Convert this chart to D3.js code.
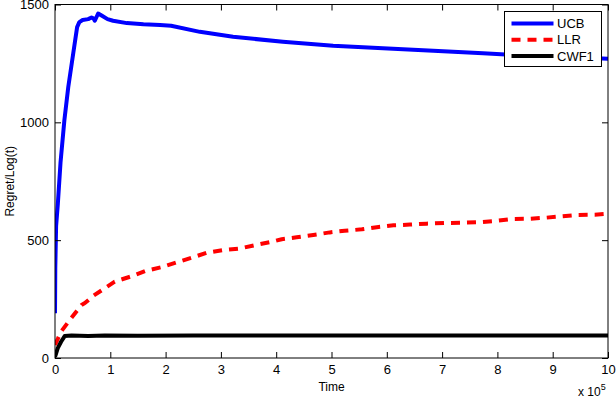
<!DOCTYPE html>
<html>
<head>
<meta charset="utf-8">
<script src="https://cdn.jsdelivr.net/npm/d3@7"></script>
<style>
  body { margin: 0; background: #fff; }
  svg text { font-family: "Liberation Sans", Arial, Helvetica, sans-serif; fill: #000; }
</style>
</head>
<body>
<div id="chart"></div>
<script>
// values (time in units of 1e5)
var xTicks = [0, 1, 2, 3, 4, 5, 6, 7, 8, 9, 10];
var yTicks = [0, 500, 1000, 1500];
var seriesNames = ["UCB", "LLR", "CWF1"];

var ucbT = [0, 0.005, 0.02, 0.05, 0.1, 0.17, 0.24, 0.33, 0.4, 0.44, 0.5, 0.6, 0.66, 0.7, 0.72, 0.78, 0.85, 0.95, 1.05, 1.3, 1.6, 1.9, 2.1, 2.62, 3.22, 4.12, 5.03, 5.93, 6.84, 7.74, 8.5, 9.2, 10];
var ucbV = [190, 380, 560, 650, 830, 1010, 1150, 1293, 1404, 1425, 1434, 1438, 1445, 1440, 1431, 1462, 1452, 1438, 1431, 1421, 1416, 1413, 1410, 1384, 1363, 1342, 1325, 1314, 1304, 1293, 1284, 1278, 1270];

var llrT = [0, 0.11, 0.29, 0.48, 0.54, 0.7, 0.9, 1.08, 1.36, 1.63, 1.92, 2.2, 2.48, 2.75, 3.04, 3.35, 3.62, 3.92, 4.1, 4.37, 4.67, 4.97, 5.24, 5.55, 5.85, 6.12, 6.42, 6.72, 7.05, 7.38, 7.69, 7.99, 8.29, 8.59, 8.86, 9.16, 9.46, 9.76, 10];
var llrV = [55, 112, 168, 225, 233, 265, 296, 324, 345, 369, 385, 406, 426, 447, 458, 465, 479, 493, 504, 512, 522, 533, 540, 546, 556, 563, 566, 570, 573, 574, 576, 582, 590, 591, 595, 601, 607, 608, 612];

var cwfT = [0, 0.05, 0.11, 0.175, 0.3, 0.6, 0.9, 1.5, 2.5, 4, 6, 8, 10];
var cwfV = [5, 42, 69, 93, 95, 93, 95, 94, 95, 95, 95, 95, 95];

var W = 616, H = 398;
var margin = { left: 55, right: 8, top: 4.5, bottom: 40 };

var svg = d3.select("#chart").append("svg").attr("width", W).attr("height", H);

var x = d3.scaleLinear().domain([0, 10]).range([margin.left, W - margin.right]);
var y = d3.scaleLinear().domain([0, 1500]).range([H - margin.bottom, margin.top]);

var line = d3.line()
  .x(function(d) { return x(d[0]); })
  .y(function(d) { return y(d[1]); });

function pairs(t, v) { return t.map(function(d, i) { return [d, v[i]]; }); }

var series = [
  { name: seriesNames[0], data: pairs(ucbT, ucbV), color: "#0000ff", dash: null },
  { name: seriesNames[1], data: pairs(llrT, llrV), color: "#ff0000", dash: "9,7" },
  { name: seriesNames[2], data: pairs(cwfT, cwfV), color: "#000000", dash: null }
];

// lines (drawn under the box so clipped by the frame visually)
var clip = svg.append("clipPath").attr("id", "plotclip").append("rect")
  .attr("x", x(0)).attr("y", y(1500))
  .attr("width", x(10) - x(0)).attr("height", y(0) - y(1500));

svg.append("g").attr("clip-path", "url(#plotclip)")
  .selectAll("path").data(series).enter().append("path")
  .attr("d", function(d) { return line(d.data); })
  .attr("fill", "none")
  .attr("stroke", function(d) { return d.color; })
  .attr("stroke-width", 4)
  .attr("stroke-dasharray", function(d) { return d.dash; })
  .attr("stroke-linejoin", "round");

// axes with inward ticks on all four sides
function styleAxis(g) {
  g.select(".domain").remove();
  g.selectAll(".tick line").attr("stroke", "#000").attr("stroke-width", 1);
  g.selectAll("text").attr("font-size", 13).attr("fill", "#000");
}

svg.append("g").attr("transform", "translate(0," + y(0) + ")")
  .call(d3.axisBottom(x).tickValues(xTicks).tickSize(-6).tickPadding(7).tickFormat(d3.format("d")))
  .call(styleAxis);

svg.append("g").attr("transform", "translate(0," + y(1500) + ")")
  .call(d3.axisTop(x).tickValues(xTicks).tickSize(-6).tickFormat(""))
  .call(styleAxis);

svg.append("g").attr("transform", "translate(" + x(0) + ",0)")
  .call(d3.axisLeft(y).tickValues(yTicks).tickSize(-6).tickPadding(6).tickFormat(d3.format("d")))
  .call(styleAxis);

svg.append("g").attr("transform", "translate(" + x(10) + ",0)")
  .call(d3.axisRight(y).tickValues(yTicks).tickSize(-6).tickFormat(""))
  .call(styleAxis);

// frame
svg.append("rect")
  .attr("x", x(0)).attr("y", y(1500))
  .attr("width", x(10) - x(0)).attr("height", y(0) - y(1500))
  .attr("fill", "none").attr("stroke", "#000").attr("stroke-width", 1);

// axis labels
svg.append("text")
  .attr("x", (x(0) + x(10)) / 2).attr("y", 391)
  .attr("text-anchor", "middle").attr("font-size", 12)
  .text("Time");

svg.append("text")
  .attr("transform", "translate(14," + (y(0) + y(1500)) / 2 + ") rotate(-90)")
  .attr("text-anchor", "middle").attr("font-size", 12)
  .text("Regret/Log(t)");

var mult = svg.append("text").attr("x", 578).attr("y", 396).attr("font-size", 12);
mult.append("tspan").text("x 10");
mult.append("tspan").attr("dy", -6).attr("font-size", 9).text("5");

// legend
var lg = svg.append("g").attr("transform", "translate(504.5,11.5)");
lg.append("rect").attr("width", 97).attr("height", 55)
  .attr("fill", "#fff").attr("stroke", "#000").attr("stroke-width", 1);

var rows = lg.selectAll("g.row").data(series).enter().append("g")
  .attr("transform", function(d, i) { return "translate(0," + (12 + i * 16.3) + ")"; });
rows.append("line")
  .attr("x1", 7).attr("x2", 49).attr("y1", 0).attr("y2", 0)
  .attr("stroke", function(d) { return d.color; })
  .attr("stroke-width", 4)
  .attr("stroke-dasharray", function(d) { return d.dash; });
rows.append("text")
  .attr("x", 52.5).attr("y", 0).attr("dy", "0.36em")
  .attr("font-size", 13)
  .text(function(d) { return d.name; });
</script>
</body>
</html>
